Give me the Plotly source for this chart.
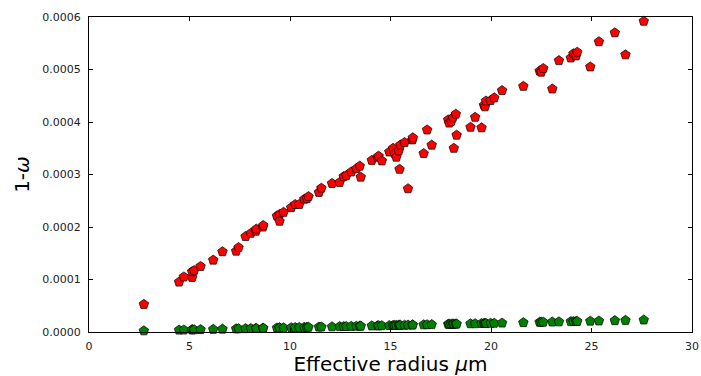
import plotly.graph_objects as go

radius = [2.73, 4.48, 4.72, 5.13, 5.13, 5.23, 5.55, 6.18, 6.64, 7.32, 7.44, 7.79, 8.05, 8.30, 8.32,
          8.65, 8.67, 9.35, 9.48, 9.48, 9.68, 10.06, 10.26, 10.46, 10.71, 10.84, 10.92, 11.44, 11.56,
          12.09, 12.47, 12.67, 12.80, 13.05, 13.30, 13.47, 13.52, 14.07, 14.36, 14.41, 14.57, 14.94,
          15.13, 15.20, 15.29, 15.41, 15.45, 15.49, 15.70, 15.87, 16.09, 16.11, 16.65, 16.82, 17.05,
          17.87, 17.92, 18.02, 18.10, 18.15, 18.25, 18.29, 18.98, 19.21, 19.53, 19.65, 19.70, 19.75,
          19.98, 20.16, 20.55, 21.61, 22.42, 22.50, 22.60, 23.05, 23.38, 23.97, 24.10, 24.23, 24.29,
          24.94, 25.37, 26.16, 26.69, 27.60]

coalbedo_red = [0.0000527, 0.0000952, 0.000105, 0.000104, 0.000115, 0.000117, 0.000125, 0.000137,
                0.000153, 0.000154, 0.000161, 0.000182, 0.000188, 0.000192, 0.000196, 0.000200,
                0.000203, 0.000221, 0.000224, 0.000211, 0.000228, 0.000237, 0.000243, 0.000243,
                0.000253, 0.000254, 0.000258, 0.000266, 0.000274, 0.000283, 0.000285, 0.000296,
                0.000298, 0.000305, 0.000311, 0.000316, 0.000295, 0.000327, 0.000333, 0.000335,
                0.000326, 0.000343, 0.000350, 0.000340, 0.000333, 0.000345, 0.000310, 0.000356,
                0.000361, 0.000273, 0.000366, 0.000370, 0.000340, 0.000385, 0.000356, 0.000404,
                0.000398, 0.000401, 0.000408, 0.000350, 0.000415, 0.000375, 0.000390, 0.000409,
                0.000389, 0.000432, 0.000429, 0.000440, 0.000441, 0.000446, 0.000460, 0.000468,
                0.000497, 0.000495, 0.000502, 0.000463, 0.000517, 0.000522, 0.000530, 0.000526,
                0.000533, 0.000505, 0.000553, 0.000570, 0.000528, 0.000592]

coalbedo_green = [0.0000023, 0.0000037, 0.0000039, 0.0000043, 0.0000044, 0.0000044, 0.0000046,
                  0.0000051, 0.0000055, 0.0000061, 0.0000062, 0.0000065, 0.0000067, 0.0000069,
                  0.0000069, 0.0000072, 0.0000072, 0.0000078, 0.0000079, 0.0000078, 0.0000080,
                  0.0000083, 0.0000085, 0.0000087, 0.0000089, 0.0000090, 0.0000091, 0.0000095,
                  0.0000096, 0.0000100, 0.0000104, 0.0000105, 0.0000106, 0.0000108, 0.0000110,
                  0.0000112, 0.0000112, 0.0000117, 0.0000119, 0.0000120, 0.0000121, 0.0000124,
                  0.0000126, 0.0000126, 0.0000127, 0.0000128, 0.0000128, 0.0000129, 0.0000130,
                  0.0000132, 0.0000134, 0.0000134, 0.0000138, 0.0000140, 0.0000142, 0.0000148,
                  0.0000149, 0.0000150, 0.0000150, 0.0000151, 0.0000151, 0.0000152, 0.0000158,
                  0.0000159, 0.0000162, 0.0000163, 0.0000164, 0.0000164, 0.0000166, 0.0000167,
                  0.0000171, 0.0000179, 0.0000186, 0.0000187, 0.0000188, 0.0000191, 0.0000194,
                  0.0000199, 0.0000200, 0.0000201, 0.0000202, 0.0000207, 0.0000211, 0.0000217,
                  0.0000222, 0.0000229]

x_ticks = [0, 5, 10, 15, 20, 25, 30]
y_ticks = [0.0, 0.0001, 0.0002, 0.0003, 0.0004, 0.0005, 0.0006]

fig = go.Figure()
fig.add_trace(go.Scatter(
    x=radius, y=coalbedo_red, mode="markers",
    marker=dict(symbol="pentagon", size=10, color="#ff0000",
                line=dict(color="black", width=0.7)),
    showlegend=False, cliponaxis=False))
fig.add_trace(go.Scatter(
    x=radius, y=coalbedo_green, mode="markers",
    marker=dict(symbol="pentagon", size=10, color="#008000",
                line=dict(color="black", width=0.7)),
    showlegend=False, cliponaxis=False))

axis_common = dict(showline=True, linecolor="black", linewidth=1, mirror="allticks",
                   ticks="inside", ticklen=4, tickcolor="black", tickwidth=1,
                   showgrid=False, zeroline=False, automargin=False,
                   tickfont=dict(family="DejaVu Sans", size=11, color="#222"))

fig.update_xaxes(range=[0, 30], tickvals=x_ticks, ticktext=[str(v) for v in x_ticks],
                 title=dict(text="Effective radius <i>μ</i>m",
                            font=dict(family="DejaVu Sans", size=20, color="black"),
                            standoff=4),
                 ticklabelstandoff=4, **axis_common)
fig.update_yaxes(range=[0, 0.0006], tickvals=y_ticks, ticktext=[f"{v:.4f}" for v in y_ticks],
                 title=dict(text="1-<i>ω</i>",
                            font=dict(family="DejaVu Sans", size=20, color="black"),
                            standoff=7),
                 ticklabelstandoff=5, **axis_common)

fig.update_layout(width=701, height=376, margin=dict(l=89, r=9, t=17, b=44),
                  plot_bgcolor="white", paper_bgcolor="white")

fig.write_html("out.html")
